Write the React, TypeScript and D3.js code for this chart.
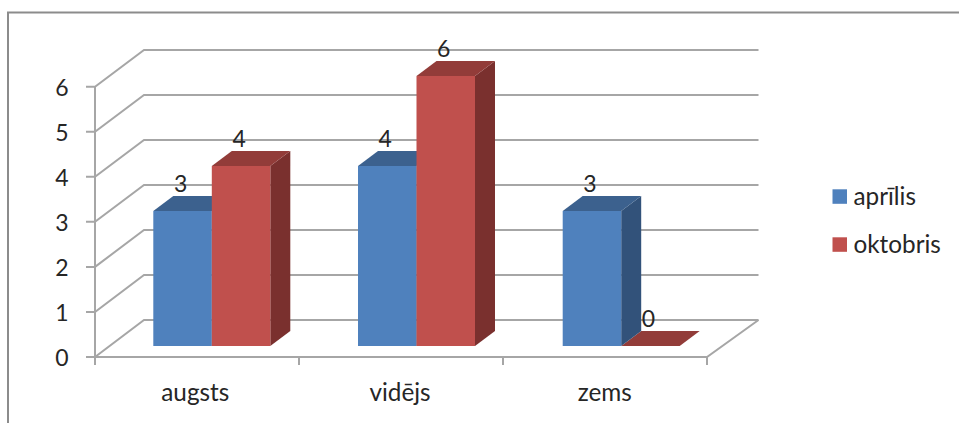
import React from "react";
import * as d3 from "d3";

const categories = ["augsts", "vidējs", "zems"];
const seriesNames = ["aprīlis", "oktobris"];
const aprilis = [3, 4, 3];
const oktobris = [4, 6, 0];
const yTicks = [0, 1, 2, 3, 4, 5, 6];

const front = ["#4f81bd", "#c0504d"];
const top = ["#3c618e", "#923c39"];
const side = ["#32527a", "#7a302e"];
const GRID = "#a6a6a6";
const TXT = "#262626";
const FONT = "Lato, 'Open Sans', sans-serif";
const FS = 23;
const FS_LABEL = 24.3;

const xAxis = d3.scaleBand<string>().domain(categories).range([95, 707]);
const xBar = d3.scalePoint<string>().domain(categories).range([153.3, 562.7]);
const yFront = d3.scaleLinear().domain([0, 6]).range([357, 86.7]);
const yBack = d3.scaleLinear().domain([0, 6]).range([320, 50]);
const yBar = d3.scaleLinear().domain([0, 6]).range([346, 76]);
const W = 58.5;
const BX = 20;
const BY = 15;

export default function App() {
  const line = d3.line();
  const values = [aprilis, oktobris];
  return (
    <svg width={959} height={423} style={{ position: "absolute", left: 0, top: 0, background: "#fff" }} fontFamily={FONT}>
      <path d="M8 423V12.5H959" fill="none" stroke="#8c8c8c" strokeWidth={2} />
      {yTicks.map((t) => (
        <g key={t}>
          <path
            d={line([[86, yFront(t)], [95, yFront(t)], [144, yBack(t)], [758.5, yBack(t)]]) as string}
            fill="none" stroke={GRID} strokeWidth={2}
          />
          <text x={62} y={yFront(t) + 1} dy="0.35em" fontSize={FS} textAnchor="middle" fill={TXT}>{t}</text>
        </g>
      ))}
      <path d={line([[95, yFront(6)], [95, yFront(0)]]) as string} stroke={GRID} strokeWidth={2} fill="none" />
      <path d={line([[95, yFront(0)], [707, yFront(0)], [758.5, yBack(0)]]) as string} stroke={GRID} strokeWidth={2} fill="none" />
      {[0, 1, 2, 3].map((i) => {
        const x = 95 + i * xAxis.bandwidth();
        return <path key={i} d={line([[x, yFront(0)], [x, yFront(0) + 8]]) as string} stroke={GRID} strokeWidth={2} />;
      })}
      {categories.map((c) => {
        const ci = categories.indexOf(c);
        const x0 = xBar(c) as number;
        return (
          <g key={c}>
            {[1, 0].map((s) => {
              const v = values[s][ci];
              const x = x0 + s * W;
              const y = yBar(v);
              const b = yBar(0);
              return (
                <g key={s}>
                  <path d={line([[x + W, y], [x + W + BX, y - BY], [x + W + BX, b - BY], [x + W, b]]) + "Z"} fill={side[s]} />
                  <path d={line([[x, y], [x + BX, y - BY], [x + W + BX, y - BY], [x + W, y]]) + "Z"} fill={top[s]} />
                </g>
              );
            })}
            {[0, 1].map((s) => {
              const v = values[s][ci];
              const x = x0 + s * W;
              return <rect key={s} x={x} y={yBar(v)} width={W} height={yBar(0) - yBar(v)} fill={front[s]} />;
            })}
            {[0, 1].map((s) => {
              const v = values[s][ci];
              const x = x0 + s * W;
              return (
                <text key={s} x={x + W / 2 - 2} y={yBar(v) - 27.5} dy="0.35em" textAnchor="middle" fontSize={FS} fill={TXT}>{v}</text>
              );
            })}
            <text x={x0 + 42} y={392} dy="0.35em" textAnchor="middle" fontSize={FS_LABEL} fill={TXT}>{c}</text>
          </g>
        );
      })}
      {seriesNames.map((n, i) => (
        <g key={n}>
          <rect x={832.5} y={189.3 + i * 48} width={14.5} height={14.5} fill={front[i]} />
          <text x={853.5} y={196 + i * 48} dy="0.35em" fontSize={FS_LABEL} fill={TXT}>{n}</text>
        </g>
      ))}
    </svg>
  );
}
